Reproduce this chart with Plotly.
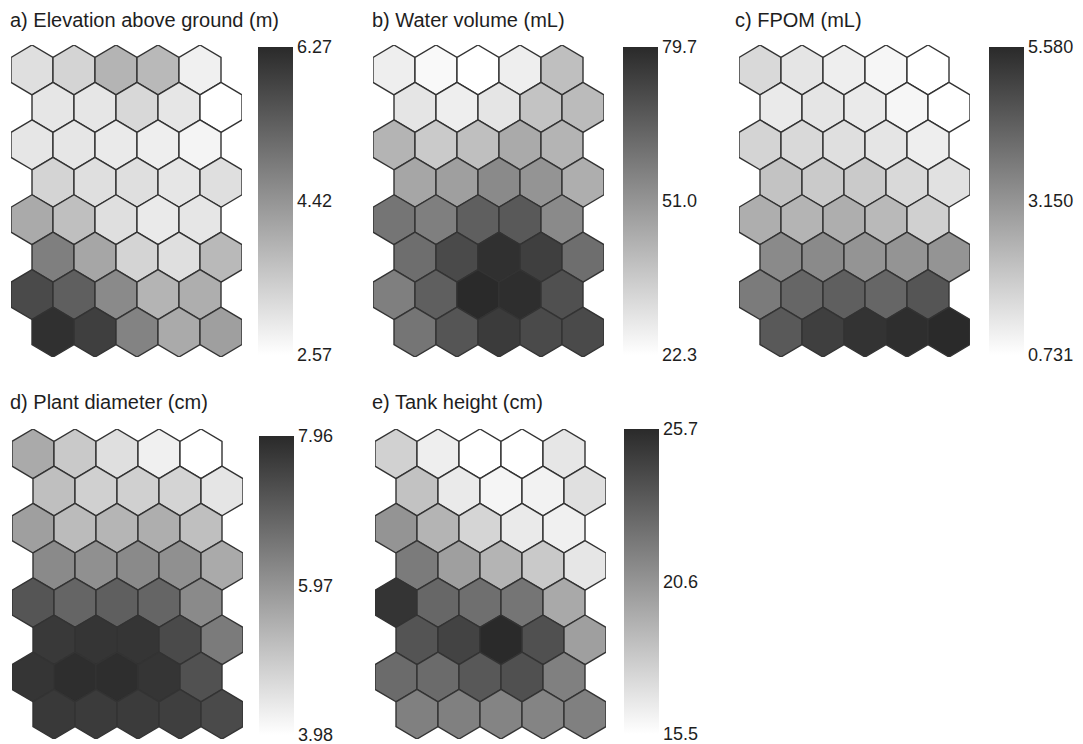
import plotly.graph_objects as go
from plotly.colors import sample_colorscale

W, H = 1083, 744
N_ROWS, N_COLS = 8, 5

# ---------------- data (rows top -> bottom, columns left -> right) ----------------
titles = ["a) Elevation above ground (m)", "b) Water volume (mL)", "c) FPOM (mL)",
          "d) Plant diameter (cm)", "e) Tank height (cm)"]

elevation = [
    [3.13, 3.31, 3.87, 3.79, 2.83],
    [3.01, 3.01, 3.24, 3.01, 2.57],
    [3.01, 3.01, 2.94, 2.87, 2.76],
    [3.31, 3.13, 3.13, 3.01, 3.13],
    [4.05, 3.68, 3.13, 2.94, 3.01],
    [4.79, 4.12, 3.31, 3.13, 3.79],
    [5.72, 5.35, 4.61, 3.87, 3.98],
    [6.16, 5.90, 4.72, 4.05, 4.24],
]
water_volume = [
    [26.9, 24.0, 22.3, 26.9, 39.5],
    [29.2, 26.9, 29.2, 38.4, 40.7],
    [42.4, 36.7, 39.5, 45.3, 42.4],
    [46.4, 48.1, 53.9, 51.0, 44.1],
    [59.6, 56.7, 65.4, 67.1, 53.9],
    [61.3, 71.1, 78.0, 74.0, 61.3],
    [56.7, 65.4, 79.7, 78.6, 69.4],
    [59.6, 68.2, 75.1, 71.1, 71.1],
]
fpom = [
    [1.604, 1.313, 1.119, 0.925, 0.731],
    [1.216, 1.313, 1.216, 0.925, 0.731],
    [1.701, 1.604, 1.458, 1.313, 1.119],
    [2.089, 1.943, 1.943, 1.604, 1.410],
    [2.574, 2.428, 2.574, 2.331, 1.798],
    [3.398, 3.398, 3.156, 3.156, 3.156],
    [3.737, 4.222, 4.368, 4.222, 4.610],
    [4.513, 5.095, 5.386, 5.483, 5.580],
]
plant_diameter = [
    [5.57, 4.98, 4.58, 4.26, 3.98],
    [5.17, 4.86, 4.86, 4.78, 4.46],
    [5.77, 5.25, 5.37, 5.49, 5.17],
    [6.17, 6.05, 6.17, 6.05, 5.57],
    [7.16, 6.85, 6.97, 6.85, 6.17],
    [7.68, 7.76, 7.76, 7.36, 6.45],
    [7.76, 7.88, 7.88, 7.76, 7.24],
    [7.68, 7.64, 7.64, 7.56, 7.36],
]
tank_height = [
    [17.7, 16.3, 15.5, 15.5, 16.7],
    [18.4, 16.5, 16.0, 16.1, 17.0],
    [20.6, 19.1, 17.5, 16.5, 16.2],
    [21.8, 20.1, 19.1, 18.1, 16.7],
    [25.2, 22.8, 22.4, 22.1, 19.6],
    [23.7, 24.5, 25.7, 23.9, 20.1],
    [22.6, 22.6, 23.5, 23.9, 21.6],
    [21.6, 21.6, 21.4, 21.4, 21.6],
]
scale_min = [2.57, 22.3, 0.731, 3.98, 15.5]
scale_max = [6.27, 79.7, 5.580, 7.96, 25.7]
tick_text = [["2.57", "4.42", "6.27"], ["22.3", "51.0", "79.7"],
             ["0.731", "3.150", "5.580"], ["3.98", "5.97", "7.96"],
             ["15.5", "20.6", "25.7"]]

panels = [elevation, water_volume, fpom, plant_diameter, tank_height]

# ---------------- layout geometry (pixels) ----------------
hex_box = [(11, 242, 45, 357), (373, 604, 45, 357), (739, 970, 45, 357),
           (12, 243, 429, 739), (375, 606, 429, 739)]
cbar_box = [(258, 47, 355), (623, 47, 355), (989, 47, 355),
            (259, 436, 735), (624, 429, 734)]
title_pos = [(8, 20), (370, 20), (733, 20), (8, 402), (370, 402)]

COLORSCALE = [[0.0, "#ffffff"], [1.0, "#2a2a2a"]]
FONT = "Liberation Sans, Arial, Helvetica, sans-serif"
TXT = "#1e1e1e"

fig = go.Figure()
layout = dict(width=W, height=H, margin=dict(l=0, r=0, t=0, b=0, autoexpand=False),
              paper_bgcolor="white", plot_bgcolor="white", showlegend=False,
              font=dict(family=FONT, size=18, color=TXT), annotations=[])


def hex_path(cx, cy):
    xs = [cx, cx + 0.5, cx + 0.5, cx, cx - 0.5, cx - 0.5, cx]
    ys = [cy + 2 / 3, cy + 1 / 3, cy - 1 / 3, cy - 2 / 3, cy - 1 / 3, cy + 1 / 3, cy + 2 / 3]
    return xs, ys


for k, grid in enumerate(panels):
    ax = "" if k == 0 else str(k + 1)
    xref, yref = "x" + ax, "y" + ax
    vmin, vmax = scale_min[k], scale_max[k]
    cxs, cys, vals = [], [], []
    for r in range(N_ROWS):
        for c in range(N_COLS):
            v = grid[r][c]
            cx = c + 0.5 * (r % 2)
            cy = (N_ROWS - 1) - r
            xs, ys = hex_path(cx, cy)
            t = min(max((v - vmin) / (vmax - vmin), 0.0), 1.0)
            col = sample_colorscale(COLORSCALE, [t])[0]
            fig.add_trace(go.Scatter(x=xs, y=ys, mode="lines", fill="toself",
                                     fillcolor=col, line=dict(color="#333333", width=1.4),
                                     xaxis=xref, yaxis=yref, hoverinfo="skip"))
            cxs.append(cx); cys.append(cy); vals.append(v)
    # centres carrying the colour scale (drives the colour bar)
    fig.add_trace(go.Scatter(x=cxs, y=cys, mode="markers", xaxis=xref, yaxis=yref,
                             marker=dict(size=1, opacity=0, color=vals,
                                         coloraxis="coloraxis" + ax),
                             hovertemplate="%{marker.color}<extra></extra>"))

    x0, x1, y0, y1 = hex_box[k]
    layout["xaxis" + ax] = dict(domain=[x0 / W, x1 / W], range=[-0.5, N_COLS],
                                visible=False, fixedrange=True)
    layout["yaxis" + ax] = dict(domain=[1 - y1 / H, 1 - y0 / H],
                                range=[-2 / 3, N_ROWS - 1 + 2 / 3],
                                visible=False, fixedrange=True)
    bx, by0, by1 = cbar_box[k]
    layout["coloraxis" + ax] = dict(
        cmin=vmin, cmax=vmax, colorscale=COLORSCALE,
        colorbar=dict(x=bx / W, xanchor="left", xpad=0, ypad=0,
                      y=1 - by0 / H, yanchor="top", lenmode="pixels", len=by1 - by0,
                      thicknessmode="pixels", thickness=35, outlinewidth=0,
                      tickvals=[vmin, (vmin + vmax) / 2, vmax], ticktext=tick_text[k],
                      ticks="", ticklen=4, ticklabeloverflow="allow",
                      tickfont=dict(family=FONT, size=18, color=TXT)))
    tx, ty = title_pos[k]
    layout["annotations"].append(dict(text=titles[k], x=tx / W, y=1 - ty / H,
                                      xref="paper", yref="paper", xanchor="left",
                                      yanchor="middle", showarrow=False,
                                      font=dict(family=FONT, size=20, color=TXT)))

fig.update_layout(**layout)
fig.write_html("out.html", config={"displayModeBar": False},
               post_script="document.body.style.margin='0px';document.body.style.padding='0px';")
